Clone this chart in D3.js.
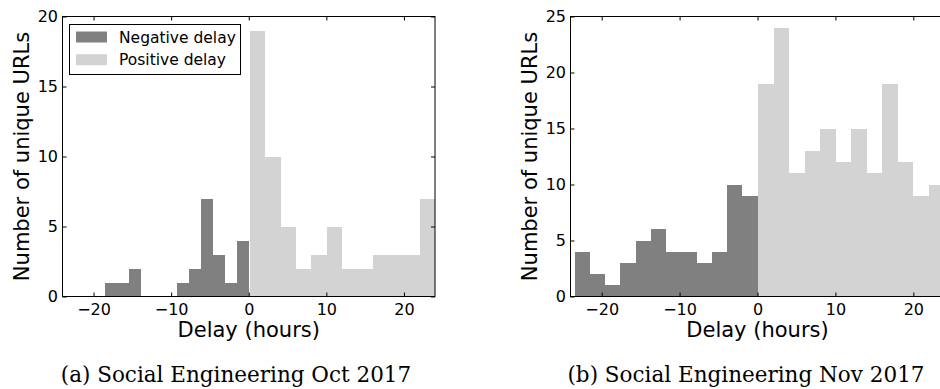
<!DOCTYPE html>
<html>
<head>
<meta charset="utf-8">
<script src="https://cdn.jsdelivr.net/npm/d3@7"></script>
<style>
  html, body { margin: 0; padding: 0; background: #fff; overflow: hidden; }
  svg { display: block; }
  text { font-family: "DejaVu Sans", sans-serif; fill: #000; }
  .caption { font-family: "DejaVu Serif", serif; }
</style>
</head>
<body>
<svg id="chart" width="940" height="389"></svg>
<script>
// ---- Data ----
const xTicks = [-20, -10, 0, 10, 20];
const octYTicks = [0, 5, 10, 15, 20];
const novYTicks = [0, 5, 10, 15, 20, 25];

const octNegEdges = [-18.53, -16.99, -15.44, -13.90, -12.35, -10.81, -9.26, -7.72, -6.18, -4.63, -3.09, -1.54, 0];
const octNegCounts = [1, 1, 2, 0, 0, 0, 1, 2, 7, 3, 1, 4];
const octPosEdges = [0.12, 2.11, 4.10, 6.09, 8.08, 10.07, 12.06, 14.05, 16.04, 18.03, 20.02, 22.01, 24.0];
const octPosCounts = [19, 10, 5, 2, 3, 5, 2, 2, 3, 3, 3, 7];

const novNegEdges = [-23.45, -21.50, -19.54, -17.59, -15.63, -13.68, -11.72, -9.77, -7.82, -5.86, -3.91, -1.95, 0];
const novNegCounts = [4, 2, 1, 3, 5, 6, 4, 4, 3, 4, 10, 9];
const novPosEdges = [0.12, 2.11, 4.10, 6.09, 8.08, 10.07, 12.06, 14.05, 16.04, 18.03, 20.02, 22.01, 24.0];
const novPosCounts = [19, 24, 11, 13, 15, 12, 15, 11, 19, 12, 9, 10];

const legendLabels = ["Negative delay", "Positive delay"];
const captions = ["(a) Social Engineering Oct 2017", "(b) Social Engineering Nov 2017"];
const xLabel = "Delay (hours)";
const yLabel = "Number of unique URLs";

// ---- Styles ----
const NEG = "#808080", POS = "#d3d3d3";
const svg = d3.select("#chart");

function toBins(edges, counts) {
  return counts.map((c, i) => ({ x0: edges[i], x1: edges[i + 1], c }));
}

function panel(opts) {
  const { left, right, top, bottom, yMax, yTicks, neg, pos, legend, caption, captionX, ylabX } = opts;
  const g = svg.append("g");
  const x = d3.scaleLinear().domain([-24, 24]).range([left, right]);
  const y = d3.scaleLinear().domain([0, yMax]).range([bottom, top]);

  const drawBars = (bins, color) => {
    g.append("g").selectAll("rect").data(bins.filter(b => b.c > 0)).join("rect")
      .attr("x", d => x(d.x0))
      .attr("width", d => x(d.x1) - x(d.x0))
      .attr("y", d => y(d.c))
      .attr("height", d => y(0) - y(d.c))
      .attr("fill", color)
      .attr("shape-rendering", "crispEdges");
  };
  drawBars(neg, NEG);
  drawBars(pos, POS);

  // axes (ticks inward, all four sides)
  const tl = 4;
  const axB = d3.axisBottom(x).tickValues(xTicks).tickSizeInner(-tl).tickSizeOuter(0).tickPadding(7)
    .tickFormat(d => d3.format("d")(d).replace("-", "\u2212"));
  const axT = d3.axisTop(x).tickValues(xTicks).tickSizeInner(-tl).tickSizeOuter(0).tickFormat("");
  const axL = d3.axisLeft(y).tickValues(yTicks).tickSizeInner(-tl).tickSizeOuter(0).tickPadding(4.5);
  const axR = d3.axisRight(y).tickValues(yTicks).tickSizeInner(-tl).tickSizeOuter(0).tickFormat("");

  const styleAx = sel => {
    sel.select(".domain").remove();
    sel.selectAll("line").attr("stroke", "#000").attr("stroke-width", 1);
    sel.selectAll("text").style("font-family", "DejaVu Sans").style("font-size", "16px").attr("fill", "#000");
  };
  g.append("g").attr("transform", `translate(0,${bottom})`).call(axB).call(styleAx);
  g.append("g").attr("transform", `translate(0,${top})`).call(axT).call(styleAx);
  g.append("g").attr("transform", `translate(${left},0)`).call(axL).call(styleAx);
  g.append("g").attr("transform", `translate(${right},0)`).call(axR).call(styleAx);

  // frame
  g.append("rect").attr("x", left).attr("y", top).attr("width", right - left).attr("height", bottom - top)
    .attr("fill", "none").attr("stroke", "#000").attr("stroke-width", 1);

  // axis labels
  g.append("text").attr("x", x(0)).attr("y", 337).attr("text-anchor", "middle")
    .style("font-size", "21px").text(xLabel);
  g.append("text").attr("transform", `translate(${ylabX},${(top + bottom) / 2}) rotate(-90)`)
    .attr("text-anchor", "middle").style("font-size", "21px").text(yLabel);

  // caption
  svg.append("text").attr("class", "caption").attr("x", captionX).attr("y", 382)
    .attr("text-anchor", "middle").style("font-size", "21.5px").text(caption);

  if (legend) {
    const lg = g.append("g");
    lg.append("rect").attr("x", 69.5).attr("y", 24.5).attr("width", 171).attr("height", 50)
      .attr("fill", "#fff").attr("stroke", "#000").attr("stroke-width", 1);
    const cols = [NEG, POS];
    legendLabels.forEach((t, i) => {
      lg.append("rect").attr("x", 76).attr("y", 31.5 + i * 22.7).attr("width", 31).attr("height", 11)
        .attr("fill", cols[i]);
      lg.append("text").attr("x", 119).attr("y", 42.5 + i * 22.7).style("font-size", "15.5px").text(t);
    });
  }
}

panel({ left: 62.5, right: 435, top: 16.5, bottom: 296.5, yMax: 20, yTicks: octYTicks,
  neg: toBins(octNegEdges, octNegCounts), pos: toBins(octPosEdges, octPosCounts),
  legend: true, caption: captions[0], captionX: 236, ylabX: 28.5 });

panel({ left: 570.5, right: 944.5, top: 16.5, bottom: 296.5, yMax: 25, yTicks: novYTicks,
  neg: toBins(novNegEdges, novNegCounts), pos: toBins(novPosEdges, novPosCounts),
  legend: false, caption: captions[1], captionX: 746, ylabX: 536.5 });
</script>
</body>
</html>
